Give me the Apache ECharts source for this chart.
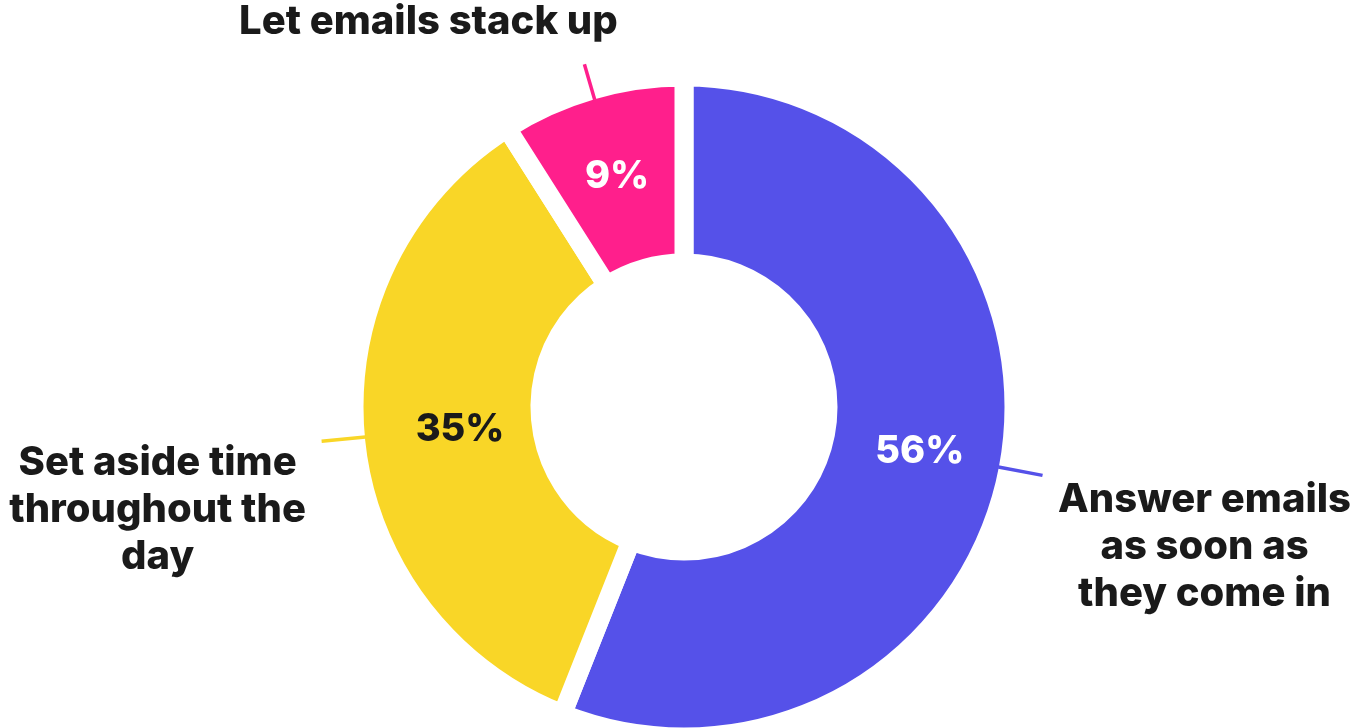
<!DOCTYPE html>
<html>
<head>
<meta charset="utf-8">
<script src="https://cdn.jsdelivr.net/npm/echarts@6/dist/echarts.min.js"></script>
<style>
  html, body { margin: 0; padding: 0; background: #fff; }
  #chart { width: 1350px; height: 728px; }
</style>
</head>
<body>
<div id="chart"></div>
<script>
// data
var categories = ['Answer emails\nas soon as\nthey come in', 'Set aside time\nthroughout the\nday', 'Let emails stack up'];
var values = [56, 35, 9];
var colors = ['#5551E9', '#F9D627', '#FF1F8C'];
var pctColors = ['#ffffff', '#1a1a1a', '#ffffff'];

// label placement per slice
var pctPadding = [[0, 0, 0, 0], [0, 0, 0, 30], [0, 0, 12, 0]];
var outerLabel = [
  { width: 300, distance: 12, padding: [144, 0, 0, 0], lineHeight: 47, line: 45 },
  { width: 320, distance: 4, padding: [138, 0, 0, 0], lineHeight: 47, line: 44 },
  { width: 400, distance: -44, padding: [0, 0, 84, 0], lineHeight: 38, line: 37 }
];

var font = 'Inter';
var chart = echarts.init(document.getElementById('chart'), null, { renderer: 'canvas' });

var sliceData = categories.map(function (name, i) {
  return {
    name: name,
    value: values[i],
    itemStyle: { color: colors[i] },
    label: { color: pctColors[i], padding: pctPadding[i] }
  };
});

var labelData = categories.map(function (name, i) {
  var o = outerLabel[i];
  return {
    name: name,
    value: values[i],
    label: {
      width: o.width,
      distanceToLabelLine: o.distance,
      padding: o.padding,
      rich: { t: { align: 'center', lineHeight: o.lineHeight, fontSize: 40, fontWeight: 800, fontFamily: font, color: '#1a1a1a' } }
    },
    labelLine: { length: o.line, lineStyle: { color: colors[i] } }
  };
});

chart.setOption({
  animation: false,
  backgroundColor: '#ffffff',
  series: [
    {
      type: 'pie',
      z: 1,
      center: [684, 407],
      radius: [144, 330],
      startAngle: 90,
      clockwise: true,
      silent: true,
      itemStyle: { borderColor: '#ffffff', borderWidth: 19 },
      label: {
        show: true,
        position: 'inside',
        formatter: '{c}%',
        fontSize: 38,
        fontWeight: 800,
        fontFamily: font,
        textBorderWidth: 0
      },
      labelLine: { show: false },
      data: sliceData
    },
    {
      type: 'pie',
      z: 5,
      center: [684, 407],
      radius: [154, 320],
      startAngle: 90,
      clockwise: true,
      silent: true,
      itemStyle: { color: 'rgba(0,0,0,0)' },
      label: {
        show: true,
        position: 'outside',
        formatter: '{t|{b}}',
        bleedMargin: 0
      },
      labelLine: {
        show: true,
        length2: 0,
        lineStyle: { width: 3.5 }
      },
      data: labelData
    }
  ]
});
</script>
</body>
</html>
